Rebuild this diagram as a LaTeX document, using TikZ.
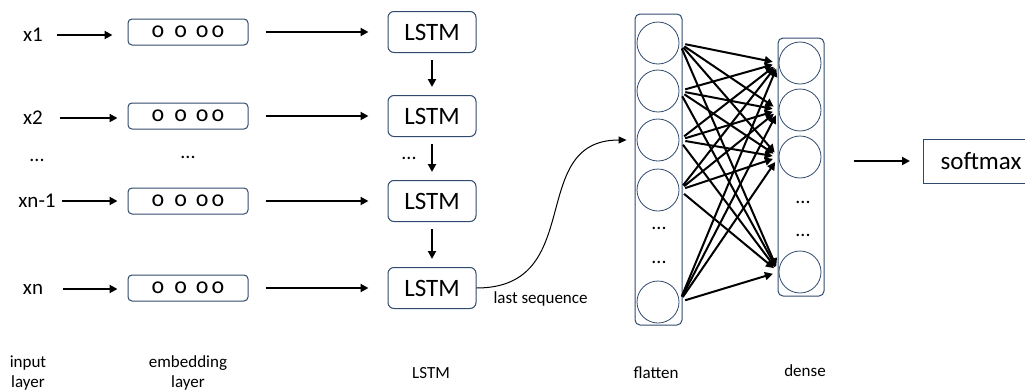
\documentclass[tikz,border=0pt]{standalone}
\usepackage{fontspec}
\setmainfont{Carlito}
\usepackage{xcolor}
\usepackage{tikz}
\usetikzlibrary{arrows.meta,positioning,calc}
\definecolor{navy}{HTML}{2F4A6D}

\begin{document}
\begin{tikzpicture}[
  x=1pt, y=-1pt,
  emb/.style={draw=navy, line width=1pt, rounded corners=4pt, minimum width=120pt, minimum height=26pt, inner sep=0pt, font=\fontsize{24}{26}\selectfont},
  lstm/.style={draw=navy, line width=1pt, rounded corners=6pt, minimum width=88pt, minimum height=41pt, inner sep=0pt, font=\fontsize{25}{27}\selectfont},
  col/.style={draw=navy, line width=1pt, rounded corners=5pt, inner sep=0pt},
  unit/.style={circle, draw=navy, line width=0.8pt, minimum size=42pt, inner sep=0pt},
  xlab/.style={inner sep=0pt, font=\fontsize{21}{23}\selectfont},
  ellip/.style={font=\fontsize{20}{22}\selectfont},
  layername/.style={align=center, font=\fontsize{17}{20}\selectfont},
  arr/.style={line width=2pt, -{Triangle[length=8pt,width=8pt]}},
  link/.style={line width=2pt, -{Triangle[length=8pt,width=8pt]}, shorten <=6pt, shorten >=6pt}
]
  \useasboundingbox (0,0) rectangle (1025,391);

  % input layer
  \node[xlab] (x1) at (33,35) {x1};
  \node[xlab] (x2) at (33,118) {x2};
  \node[ellip] (xd) at (37,160) {...};
  \node[xlab] (x3) at (37,201) {xn-1};
  \node[xlab] (x4) at (33,289) {xn};

  % embedding layer
  \newcommand{\embvec}{o\hspace{10pt}o\hspace{9pt}o\hspace{3pt}o}
  \node[emb] (e1) at (188,32) {\embvec};
  \node[emb] (e2) at (188,116) {\embvec};
  \node[ellip] (ed) at (188,157) {...};
  \node[emb] (e3) at (188,201) {\embvec};
  \node[emb] (e4) at (188,288) {\embvec};

  % lstm column
  \node[lstm, right=139pt of e1] (l1) {LSTM};
  \node[lstm, right=139pt of e2] (l2) {LSTM};
  \node[lstm, right=139pt of e3] (l3) {LSTM};
  \node[lstm, right=139pt of e4] (l4) {LSTM};
  \node[ellip] (ld) at (409,158) {...};

  % flatten
  \node[col, minimum width=47pt, minimum height=311pt] (fl) at (658.5,169.5) {};
  \node[unit] (f1) at (658,43) {};
  \node[unit] (f2) at (658,91) {};
  \node[unit] (f3) at (658,140) {};
  \node[unit] (f4) at (658,190) {};
  \node[ellip] (fd1) at (659,228) {...};
  \node[ellip] (fd2) at (659,262) {...};
  \node[unit] (f5) at (658,302) {};

  % dense
  \node[col, minimum width=46pt, minimum height=258pt] (dn) at (801,167) {};
  \node[unit] (d1) at (800,63) {};
  \node[unit] (d2) at (800,110) {};
  \node[unit] (d3) at (800,157) {};
  \node[ellip] (dd1) at (803,202) {...};
  \node[ellip] (dd2) at (803,235) {...};
  \node[unit] (d4) at (800,272) {};

  \node[draw=navy, line width=1pt, minimum width=115pt, minimum height=44pt, anchor=west, font=\fontsize{25}{27}\selectfont] (sm) at (923,161) {softmax};

  % captions
  \node[layername] (c1) at (28,373) {input\\layer};
  \node[layername] (c2) at (188,373) {embedding\\layer};
  \node[layername] (c3) at (431,373) {LSTM};
  \node[layername] (c4) at (656,373) {flatten};
  \node[layername] (c5) at (805,371) {dense};
  \node[layername, anchor=west] (ls) at (490,299) {last sequence};

  % arrows
  \foreach \i/\s/\t in {1/14pt/15pt, 2/17pt/10pt, 3/6pt/10pt, 4/20pt/10pt}
    \draw[arr, shorten <=\s, shorten >=\t] (x\i.east) -- (x\i.east -| e\i.west);
  \foreach \i in {1,...,4}
    \draw[arr, shorten <=17pt, shorten >=19pt] (e\i.east) -- (l\i.west);
  \foreach \i/\j in {1/2,2/3,3/4}
    \draw[arr, shorten <=7pt, shorten >=8pt] (l\i) -- (l\j);

  \draw[line width=1pt, -{Triangle[length=8pt,width=7pt]}, shorten >=10pt] (l4.east) to[out=0, in=180, looseness=1.3] (f3.west);

  \foreach \a in {1,...,5}
    \foreach \b in {1,...,4}
      \draw[link] (f\a.east) -- (d\b.west);

  \draw[arr, shorten <=29pt, shorten >=13pt] (dn.east |- sm.west) -- (sm.west);
\end{tikzpicture}
\end{document}
